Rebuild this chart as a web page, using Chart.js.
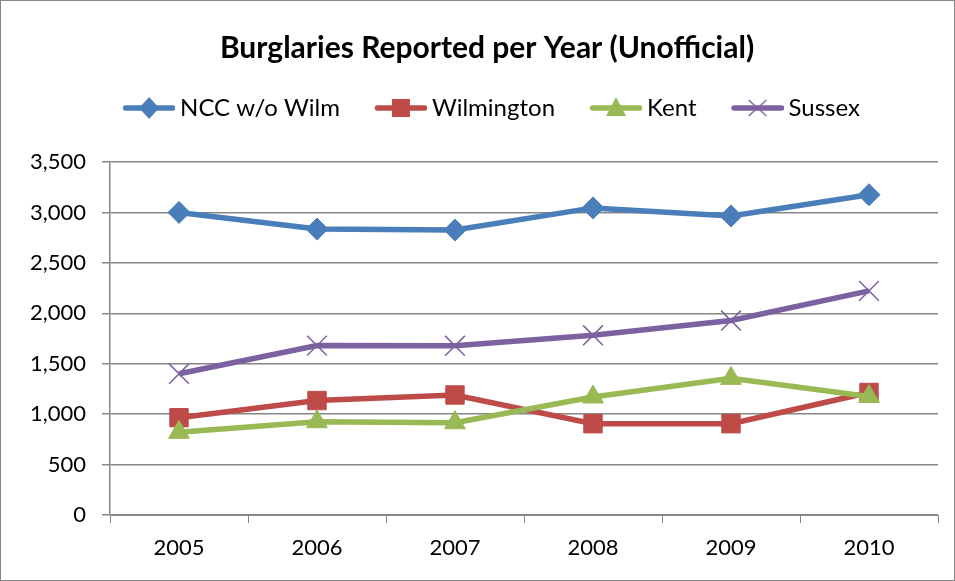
<!DOCTYPE html>
<html>
<head>
<meta charset="utf-8">
<script src="https://cdn.jsdelivr.net/npm/chart.js@4.4.0/dist/chart.umd.min.js"></script>
<style>
  html, body { margin: 0; padding: 0; background: #fff; }
  #wrap { width: 955px; height: 581px; }
</style>
</head>
<body>
<div id="wrap"><canvas id="burglaryChart" width="955" height="581"></canvas></div>
<script>
// DATA
const years = ['2005', '2006', '2007', '2008', '2009', '2010'];
const nccNoWilm = [3000, 2835, 2825, 3045, 2965, 3175];
const wilmington = [965, 1135, 1190, 905, 905, 1215];
const kent = [820, 925, 915, 1170, 1355, 1175];
const sussex = [1400, 1680, 1678, 1782, 1928, 2222];
const yTicks = [0, 500, 1000, 1500, 2000, 2500, 3000, 3500];

const FONT = 'Lato, "Open Sans", sans-serif';
const GRID = '#868686';

// legend swatch: line with marker, like Excel (blank space on the left acts as item gap)
function legendSwatch(color, style) {
    const c = document.createElement('canvas');
    c.width = 84; c.height = 26;
    const g = c.getContext('2d');
    const cx = 58, cy = 13;
    g.strokeStyle = color;
    g.lineWidth = 5.5;
    g.lineCap = 'round';
    g.beginPath(); g.moveTo(34.5, cy); g.lineTo(81.5, cy); g.stroke();
    g.fillStyle = color;
    g.lineWidth = 1.5;
    g.lineCap = 'butt';
    if (style === 'rectRot') {
        g.beginPath(); g.moveTo(cx, cy - 11); g.lineTo(cx + 10, cy); g.lineTo(cx, cy + 11); g.lineTo(cx - 10, cy); g.closePath(); g.fill();
    } else if (style === 'rect') {
        g.fillRect(cx - 9, cy - 9, 18, 18);
    } else if (style === 'triangle') {
        g.beginPath(); g.moveTo(cx, cy - 11); g.lineTo(cx + 10, cy + 8); g.lineTo(cx - 10, cy + 8); g.closePath(); g.fill();
    } else {
        g.beginPath(); g.moveTo(cx - 9, cy - 8); g.lineTo(cx + 9, cy + 8); g.moveTo(cx + 9, cy - 8); g.lineTo(cx - 9, cy + 8); g.stroke();
    }
    return c;
}

const series = [
    { label: 'NCC w/o Wilm', data: nccNoWilm, color: '#4A7EBB', style: 'rectRot', radius: 11 },
    { label: 'Wilmington', data: wilmington, color: '#BE4B48', style: 'rect', radius: 13 },
    { label: 'Kent', data: kent, color: '#98B954', style: 'triangle', radius: 12 },
    { label: 'Sussex', data: sussex, color: '#7D60A0', style: 'crossRot', radius: 14 }
];

// outer grey frame
const framePlugin = {
    id: 'frame',
    afterDraw(chart) {
        const c = chart.ctx;
        c.save();
        c.strokeStyle = GRID;
        c.lineWidth = 1;
        c.strokeRect(0.5, 0.5, chart.width - 1, chart.height - 1);
        c.restore();
    }
};

// empty layout box below the legend, to push the plot area down
const spacerPlugin = {
    id: 'legendSpacer',
    beforeInit(chart) {
        const box = {
            position: 'top',
            weight: 500,
            fullSize: true,
            options: {},
            top: 0, left: 0, right: 0, bottom: 0, width: 0, height: 0,
            isHorizontal() { return true; },
            update(maxWidth) { this.width = maxWidth; this.height = 32; },
            draw() {}
        };
        Chart.layouts.addBox(chart, box);
    },
    // Excel centres title and legend a bit right of the canvas middle
    afterLayout(chart) {
        if (chart.titleBlock) chart.titleBlock.left = 36;
        if (chart.legend) chart.legend.left = 20;
    }
};

const ctx = document.getElementById('burglaryChart').getContext('2d');

new Chart(ctx, {
    type: 'line',
    data: {
        labels: years,
        datasets: series.map((s, i) => ({
            label: s.label,
            data: s.data,
            order: series.length - i, // later series drawn on top, as in Excel
            borderColor: s.color,
            backgroundColor: s.color,
            borderWidth: 5.5,
            pointStyle: s.style,
            pointRadius: s.radius,
            pointBorderWidth: s.style === 'crossRot' ? 1.5 : 1,
            pointBackgroundColor: s.color,
            pointBorderColor: s.color,
            tension: 0,
            fill: false
        }))
    },
    options: {
        responsive: false,
        animation: false,
        layout: { padding: { left: 0, right: 17, top: 0, bottom: 16 } },
        plugins: {
            title: {
                display: true,
                text: 'Burglaries Reported per Year (Unofficial)',
                color: '#000',
                font: { family: FONT, size: 30, weight: 'bold' },
                padding: { top: 30, bottom: 20 }
            },
            legend: {
                position: 'top',
                labels: {
                    color: '#000',
                    font: { family: FONT, size: 24 },
                    usePointStyle: true,
                    pointStyleWidth: 70,
                    boxHeight: 24,
                    padding: 10,
                    generateLabels(chart) {
                        return series.map((s, i) => ({
                            text: s.label,
                            pointStyle: legendSwatch(s.color, s.style),
                            fillStyle: s.color,
                            strokeStyle: s.color,
                            lineWidth: 0,
                            hidden: false,
                            datasetIndex: i,
                            fontColor: '#000'
                        }));
                    }
                }
            },
            tooltip: { enabled: false }
        },
        scales: {
            x: {
                offset: true,
                grid: { offset: true, drawOnChartArea: false, color: GRID, tickLength: 8, lineWidth: 1 },
                border: { display: true, color: GRID, width: 1 },
                ticks: { color: '#000', font: { family: FONT, size: 22 }, padding: 12 },
                afterFit(scale) { scale.height = 50; }
            },
            y: {
                min: 0,
                max: 3500,
                afterBuildTicks(scale) { scale.ticks = yTicks.map(v => ({ value: v })); },
                grid: { color: GRID, tickLength: 8, lineWidth: 1.5 },
                border: { display: true, color: GRID, width: 1.5 },
                ticks: {
                    color: '#000',
                    font: { family: FONT, size: 22 },
                    padding: 16,
                    callback: v => v.toLocaleString('en-US')
                },
                afterFit(scale) { scale.width = 110; }
            }
        }
    },
    plugins: [framePlugin, spacerPlugin]
});
</script>
</body>
</html>
